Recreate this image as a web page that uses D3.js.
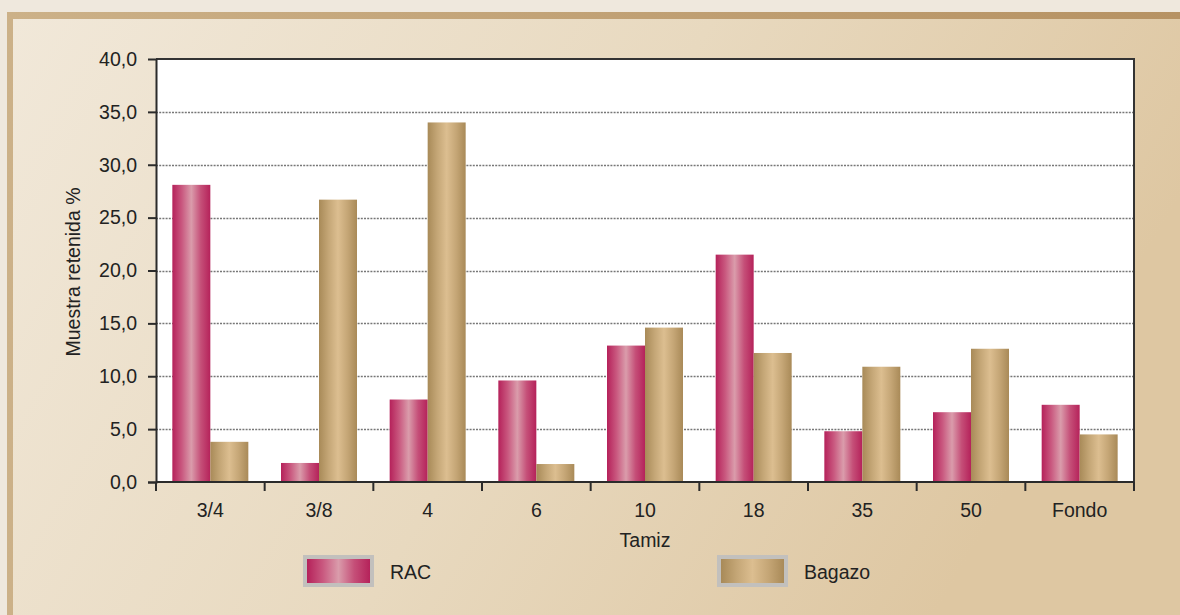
<!DOCTYPE html>
<html>
<head>
<meta charset="utf-8">
<script src="https://cdn.jsdelivr.net/npm/d3@7/dist/d3.min.js"></script>
<style>
  html, body { margin: 0; padding: 0; background: #efe8dd; }
  svg { display: block; font-family: "Liberation Sans", Arial, sans-serif; }
</style>
</head>
<body>
<svg id="chart" width="1180" height="615"></svg>
<script>
// Sieve fractions (% retained) for two materials
const categories = ["3/4", "3/8", "4", "6", "10", "18", "35", "50", "Fondo"];
const seriesNames = ["RAC", "Bagazo"];
const racValues = [28.1, 1.8, 7.8, 9.6, 12.9, 21.5, 4.8, 6.6, 7.3];
const bagazoValues = [3.8, 26.7, 34.0, 1.7, 14.6, 12.2, 10.9, 12.6, 4.5];
const yTicks = [0, 5, 10, 15, 20, 25, 30, 35, 40];
const xTitle = "Tamiz";
const yTitle = "Muestra retenida %";

const rows = categories.map((c, i) => ({ cat: c, RAC: racValues[i], Bagazo: bagazoValues[i] }));

const svg = d3.select("#chart");
const W = 1180, H = 615;
const plot = { left: 156, right: 1134, top: 59, bottom: 482 };
const FS = 19.5;

const defs = svg.append("defs");

// panel background gradient
const bg = defs.append("linearGradient").attr("id", "panelGrad")
  .attr("x1", "0%").attr("y1", "0%").attr("x2", "100%").attr("y2", "30%");
bg.append("stop").attr("offset", "0%").attr("stop-color", "#f1e8d9");
bg.append("stop").attr("offset", "55%").attr("stop-color", "#e8d9bf");
bg.append("stop").attr("offset", "100%").attr("stop-color", "#dec7a2");

const frame = defs.append("linearGradient").attr("id", "frameGrad")
  .attr("x1", "0%").attr("y1", "0%").attr("x2", "100%").attr("y2", "0%");
frame.append("stop").attr("offset", "0%").attr("stop-color", "#ccb188");
frame.append("stop").attr("offset", "100%").attr("stop-color", "#b69263");

// cylinder-like shading for the bars
const barGrads = {
  RAC: ["#b5215a", "#c9587f", "#da9cab", "#c54f78", "#b5225a"],
  Bagazo: ["#a88a58", "#c4a676", "#dcbe90", "#c5a676", "#a98a58"]
};
Object.entries(barGrads).forEach(([k, cols]) => {
  const g = defs.append("linearGradient").attr("id", "grad" + k)
    .attr("x1", "0%").attr("y1", "0%").attr("x2", "100%").attr("y2", "0%");
  const offs = [0, 25, 50, 75, 100];
  cols.forEach((c, i) => g.append("stop").attr("offset", offs[i] + "%").attr("stop-color", c));
});

// outer page band, frame and panel
svg.append("rect").attr("x", 0).attr("y", 0).attr("width", W).attr("height", H).attr("fill", "#efe8dd");
svg.append("rect").attr("x", 7).attr("y", 12).attr("width", W - 7).attr("height", H - 12).attr("fill", "url(#frameGrad)");
svg.append("rect").attr("x", 13).attr("y", 19).attr("width", W - 13).attr("height", H - 19).attr("fill", "url(#panelGrad)");

// plot area
svg.append("rect").attr("x", plot.left).attr("y", plot.top)
  .attr("width", plot.right - plot.left).attr("height", plot.bottom - plot.top)
  .attr("fill", "#ffffff");

const x0 = d3.scaleBand().domain(categories).range([plot.left, plot.right]).padding(0);
const x1 = d3.scaleBand().domain(seriesNames).range([0, x0.bandwidth()]).paddingInner(0).paddingOuter(0.43);
const y = d3.scaleLinear().domain([0, 40]).range([plot.bottom, plot.top]);

// gridlines
svg.append("g").selectAll("line").data(yTicks.filter(t => t > 0 && t < 40)).join("line")
  .attr("x1", plot.left).attr("x2", plot.right)
  .attr("y1", d => Math.round(y(d)) + 0.5).attr("y2", d => Math.round(y(d)) + 0.5)
  .attr("stroke", "#777").attr("stroke-width", 1.3)
  .attr("stroke-dasharray", "2,1.2");

// bars
const groups = svg.append("g").selectAll("g").data(rows).join("g")
  .attr("transform", d => `translate(${x0(d.cat)},0)`);
groups.selectAll("rect").data(d => seriesNames.map(s => ({ s, v: d[s] }))).join("rect")
  .attr("x", d => x1(d.s))
  .attr("width", x1.bandwidth())
  .attr("y", d => y(d.v))
  .attr("height", d => y(0) - y(d.v))
  .attr("fill", d => `url(#grad${d.s})`);

// plot border (top and right)
svg.append("path")
  .attr("d", `M${plot.left},${plot.top}H${plot.right}V${plot.bottom}`)
  .attr("fill", "none").attr("stroke", "#333").attr("stroke-width", 2);

// y axis
const yAxis = svg.append("g").attr("transform", `translate(${plot.left},0)`)
  .call(d3.axisLeft(y).tickValues(yTicks).tickSize(8).tickPadding(11)
    .tickFormat(d => d3.format(".1f")(d).replace(".", ",")));
yAxis.select(".domain").attr("stroke", "#2b2b2b").attr("stroke-width", 2);
yAxis.selectAll(".tick line").attr("stroke", "#2b2b2b").attr("stroke-width", 2)
  .attr("display", d => d === 40 ? "none" : null);
yAxis.selectAll(".tick text").attr("font-size", FS).attr("fill", "#222")
  .attr("font-family", "Liberation Sans, Arial, sans-serif");

// x axis: ticks on category boundaries
const xAxis = svg.append("g");
xAxis.append("line").attr("x1", plot.left).attr("x2", plot.right)
  .attr("y1", plot.bottom).attr("y2", plot.bottom)
  .attr("stroke", "#2b2b2b").attr("stroke-width", 2);
const bounds = categories.map(c => x0(c)).concat([plot.right]);
xAxis.selectAll("line.b").data(bounds).join("line").attr("class", "b")
  .attr("x1", d => d).attr("x2", d => d)
  .attr("y1", plot.bottom).attr("y2", plot.bottom + 9)
  .attr("stroke", "#2b2b2b").attr("stroke-width", 2);
xAxis.selectAll("text").data(categories).join("text")
  .attr("x", d => x0(d) + x0.bandwidth() / 2).attr("y", 517)
  .attr("text-anchor", "middle").attr("font-size", FS).attr("fill", "#222")
  .text(d => d);

// axis titles
svg.append("text").attr("x", 645).attr("y", 547).attr("text-anchor", "middle")
  .attr("font-size", FS).attr("fill", "#222").text(xTitle);
svg.append("text").attr("transform", "translate(80,272) rotate(-90)")
  .attr("text-anchor", "middle").attr("font-size", FS).attr("fill", "#222").text(yTitle);

// legend
const legendPos = { RAC: [303, 390], Bagazo: [717, 804] };
seriesNames.forEach(s => {
  const [bx, tx] = legendPos[s];
  svg.append("rect").attr("x", bx).attr("y", 555).attr("width", 71).attr("height", 32).attr("fill", "#c2c0bd");
  svg.append("rect").attr("x", bx + 4).attr("y", 559).attr("width", 63).attr("height", 24).attr("fill", `url(#grad${s})`);
  svg.append("text").attr("x", tx).attr("y", 579).attr("font-size", FS).attr("fill", "#222").text(s);
});
</script>
</body>
</html>
